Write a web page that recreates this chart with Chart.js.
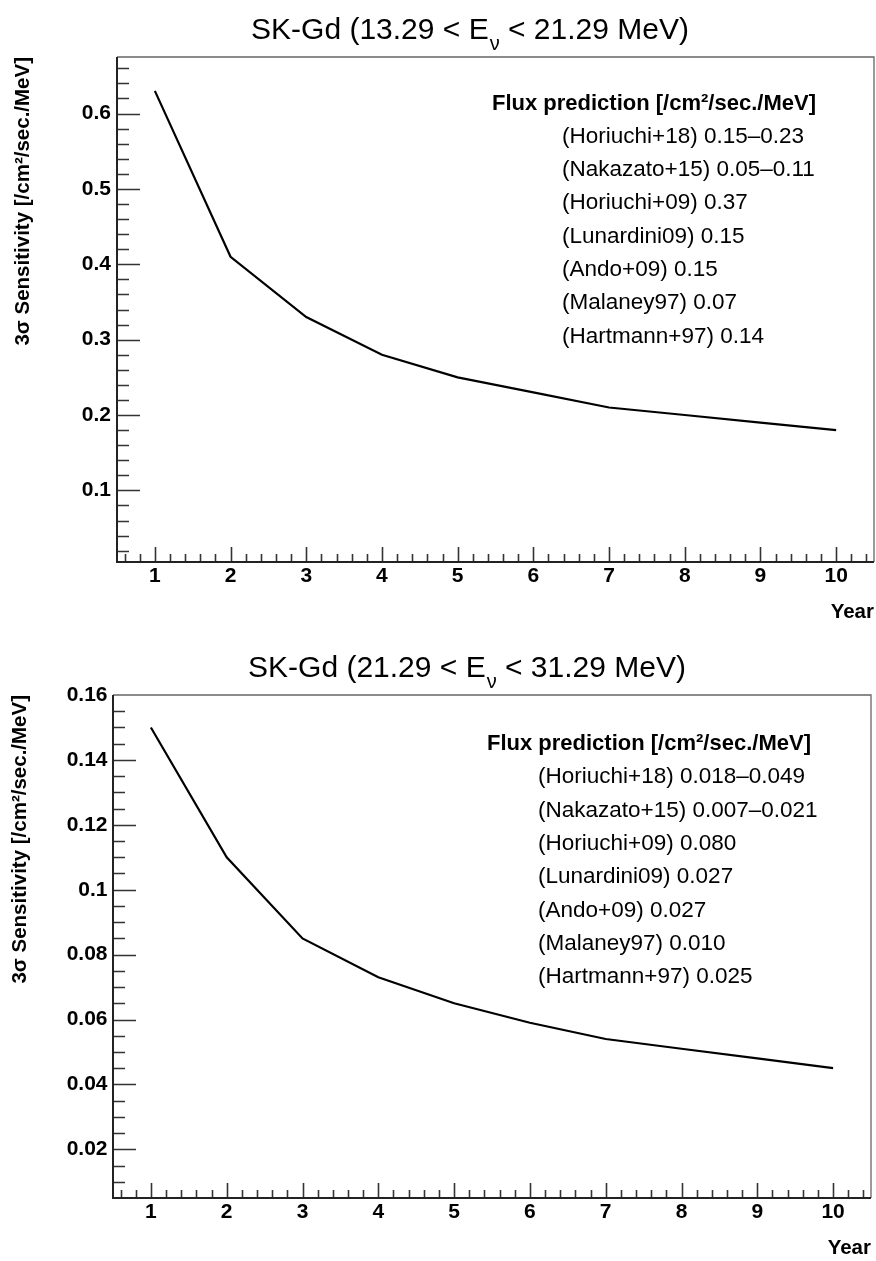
<!DOCTYPE html>
<html>
<head>
<meta charset="utf-8">
<script src="https://cdn.jsdelivr.net/npm/chart.js@4"></script>
<style>
  html, body { margin: 0; padding: 0; background: #fff; overflow: hidden; }
  canvas { display: block; }
</style>
</head>
<body>
<canvas id="low" width="876" height="630"></canvas>
<canvas id="high" width="876" height="631"></canvas>
<script>
const FONT = '"Liberation Sans", Arial, Helvetica, sans-serif';

// exposure in years
const years = [1, 2, 3, 4, 5, 6, 7, 8, 9, 10];

// 3 sigma sensitivity, 13.29-21.29 MeV and 21.29-31.29 MeV bins
const sensLow = [0.63, 0.41, 0.33, 0.28, 0.25, 0.23, 0.21, 0.20, 0.19, 0.18];
const sensHigh = [0.150, 0.110, 0.085, 0.073, 0.065, 0.059, 0.054, 0.051, 0.048, 0.045];

// labelled y ticks
const yTicksLow = [0.1, 0.2, 0.3, 0.4, 0.5, 0.6];
const yTicksHigh = [0.02, 0.04, 0.06, 0.08, 0.1, 0.12, 0.14, 0.16];

// flux predictions per model
const fluxModels = ['Horiuchi+18', 'Nakazato+15', 'Horiuchi+09', 'Lunardini09', 'Ando+09', 'Malaney97', 'Hartmann+97'];
const fluxLow = ['0.15–0.23', '0.05–0.11', '0.37', '0.15', '0.15', '0.07', '0.14'];
const fluxHigh = ['0.018–0.049', '0.007–0.021', '0.080', '0.027', '0.027', '0.010', '0.025'];

// frame, inward ticks, title and the flux text box
const framePlugin = {
  id: 'frame',
  afterDraw(chart, args, opts) {
    const { ctx, chartArea: a, scales } = chart;
    const xs = scales.x;
    const ys = scales.y;
    ctx.save();

    // inward tick marks
    ctx.strokeStyle = '#333';
    ctx.lineWidth = 1.6;
    ctx.beginPath();
    const yMinorStep = opts.yMinor;
    for (let k = Math.ceil(ys.min / yMinorStep); k * yMinorStep <= ys.max; k++) {
      const v = k * yMinorStep;
      if (v <= ys.min + 1e-9 || v >= ys.max - 1e-9) continue;
      const major = Math.abs(v / opts.yMajor - Math.round(v / opts.yMajor)) < 1e-6;
      const py = Math.round(ys.getPixelForValue(v)) + 0.5;
      ctx.moveTo(a.left, py);
      ctx.lineTo(a.left + (major ? 23 : 12), py);
    }
    for (let k = Math.ceil(xs.min / 0.2); k * 0.2 <= xs.max; k++) {
      const v = k * 0.2;
      if (v <= xs.min + 1e-9 || v >= xs.max - 1e-9) continue;
      const major = Math.abs(v - Math.round(v)) < 1e-6;
      const px = Math.round(xs.getPixelForValue(v)) + 0.5;
      ctx.moveTo(px, a.bottom);
      ctx.lineTo(px, a.bottom - (major ? 15 : 8));
    }
    ctx.stroke();

    // top and right border
    ctx.strokeStyle = '#666';
    ctx.lineWidth = 1.3;
    ctx.beginPath();
    ctx.moveTo(a.left, a.top);
    ctx.lineTo(a.right, a.top);
    ctx.lineTo(a.right, a.bottom);
    ctx.stroke();

    // axis lines
    ctx.strokeStyle = '#222';
    ctx.lineWidth = 2;
    ctx.beginPath();
    ctx.moveTo(a.left, a.top);
    ctx.lineTo(a.left, a.bottom);
    ctx.lineTo(a.right, a.bottom);
    ctx.stroke();

    // title with subscript nu
    ctx.fillStyle = '#000';
    ctx.textAlign = 'left';
    ctx.textBaseline = 'alphabetic';
    const p1 = 'SK-Gd (' + opts.eLow + ' < E';
    const p3 = ' < ' + opts.eHigh + ' MeV)';
    ctx.font = '30px ' + FONT;
    const w1 = ctx.measureText(p1).width;
    const w3 = ctx.measureText(p3).width;
    ctx.font = '20px ' + FONT;
    const w2 = ctx.measureText('ν').width + 1;
    let tx = opts.titleCenter - (w1 + w2 + w3) / 2;
    ctx.font = '30px ' + FONT;
    ctx.fillText(p1, tx, opts.titleBase);
    tx += w1;
    ctx.font = '20px ' + FONT;
    ctx.fillText('ν', tx + 1, opts.titleBase + 11);
    tx += w2;
    ctx.font = '30px ' + FONT;
    ctx.fillText(p3, tx, opts.titleBase);

    // flux prediction box
    ctx.font = 'bold 22px ' + FONT;
    ctx.fillText('Flux prediction [/cm²/sec./MeV]', opts.headX, opts.headBase);
    ctx.font = '22.5px ' + FONT;
    fluxModels.forEach((m, i) => {
      ctx.fillText('(' + m + ') ' + opts.flux[i], opts.rowX, opts.rowBase + i * 33.35);
    });
    ctx.restore();
  },
};

function makeChart(id, values, cfg) {
  const tickFont = { family: FONT, size: 21, weight: 'bold' };
  return new Chart(document.getElementById(id), {
    type: 'line',
    data: {
      datasets: [{
        data: years.map((x, i) => ({ x, y: values[i] })),
        borderColor: '#000',
        borderWidth: 2.2,
        pointRadius: 0,
        tension: 0,
        fill: false,
      }],
    },
    options: {
      responsive: false,
      animation: false,
      layout: { padding: { top: cfg.padTop, right: cfg.padRight, left: 0, bottom: 0 } },
      plugins: {
        legend: { display: false },
        tooltip: { enabled: false },
        frame: cfg.frame,
      },
      scales: {
        x: {
          type: 'linear',
          min: 0.5,
          max: 10.5,
          afterBuildTicks: (s) => { s.ticks = years.map((v) => ({ value: v })); },
          afterFit: (s) => { s.height = cfg.xHeight; },
          grid: { display: false, drawTicks: false },
          border: { display: false },
          ticks: { color: '#000', font: tickFont, padding: 2, maxRotation: 0, autoSkip: false },
          title: {
            display: true,
            text: 'Year',
            align: 'end',
            color: '#000',
            font: { family: FONT, size: 20.5, weight: 'bold' },
            padding: { top: 0, bottom: cfg.yearPad },
          },
        },
        y: {
          type: 'linear',
          min: cfg.yMin,
          max: cfg.yMax,
          afterBuildTicks: (s) => { s.ticks = cfg.yTicks.map((v) => ({ value: v })); },
          afterFit: (s) => { s.width = cfg.yWidth; },
          grid: { display: false, drawTicks: false },
          border: { display: false },
          ticks: {
            color: '#000',
            font: tickFont,
            padding: cfg.yLabelPad,
            autoSkip: false,
            callback: (v) => String(+v.toFixed(3)),
          },
          title: {
            display: true,
            text: '3σ Sensitivity [/cm²/sec./MeV]',
            align: 'end',
            color: '#000',
            font: { family: FONT, size: 20.5, weight: 'bold' },
            padding: { top: cfg.yTitlePad, bottom: 0 },
          },
        },
      },
    },
    plugins: [framePlugin],
  });
}

makeChart('low', sensLow, {
  yMin: 0.005, yMax: 0.675, yTicks: yTicksLow,
  padTop: 57, padRight: 2, xHeight: 68, yWidth: 117,
  yLabelPad: 6, yTitlePad: 11, yearPad: 5,
  frame: {
    yMajor: 0.1, yMinor: 0.02, eLow: '13.29', eHigh: '21.29',
    titleCenter: 470, titleBase: 38.5,
    headX: 492, headBase: 110, rowX: 562, rowBase: 142.7, flux: fluxLow,
  },
});

makeChart('high', sensHigh, {
  yMin: 0.005, yMax: 0.16, yTicks: yTicksHigh,
  padTop: 65, padRight: 5, xHeight: 63, yWidth: 113,
  yLabelPad: 5.5, yTitlePad: 8, yearPad: 0,
  frame: {
    yMajor: 0.02, yMinor: 0.005, eLow: '21.29', eHigh: '31.29',
    titleCenter: 467, titleBase: 46.7,
    headX: 487, headBase: 120, rowX: 538, rowBase: 153.3, flux: fluxHigh,
  },
});
</script>
</body>
</html>
